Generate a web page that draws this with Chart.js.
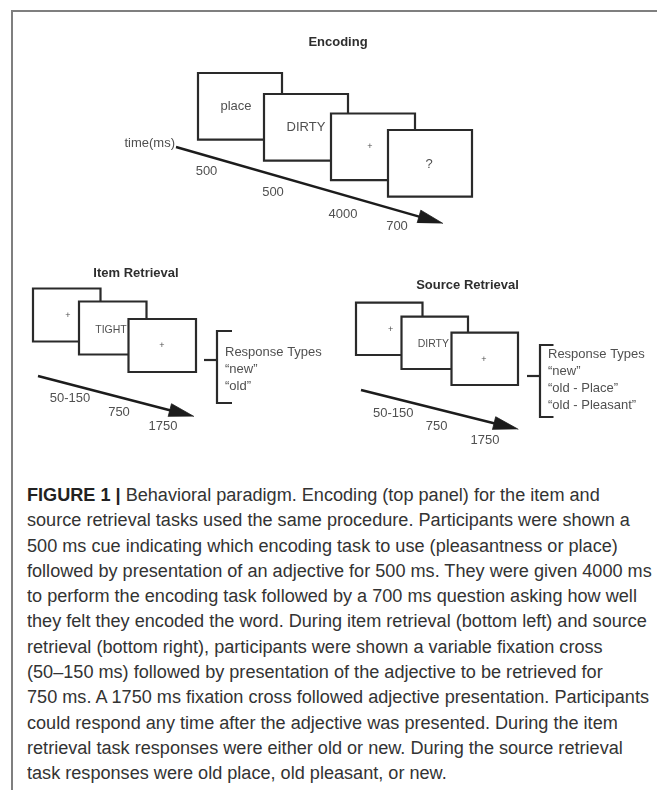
<!DOCTYPE html>
<html>
<head>
<meta charset="utf-8">
<script src="https://cdn.jsdelivr.net/npm/chart.js@4.4.1/dist/chart.umd.min.js"></script>
<style>
  html, body { margin: 0; padding: 0; background: #fff; }
  body { width: 657px; height: 790px; position: relative; overflow: hidden; }
  #frame { position: absolute; left: 11px; top: 10px; width: 700px; height: 820px;
           border-top: 2px solid #7f7f7f; border-left: 2px solid #7f7f7f; }
  #wrap { position: absolute; left: 0; top: 0; width: 657px; height: 470px; }
  #caption { position: absolute; left: 27px; top: 483px; font-family: "Liberation Sans", Arial, sans-serif;
             font-size: 18px; line-height: 25.3px; color: #333; white-space: nowrap; transform-origin: 0 0; }
  #caption .ln { display: block; }
  #caption .ln span { display: inline-block; }
  #caption b { color: #222; }
</style>
</head>
<body>
<div id="frame"></div>
<div id="wrap"><canvas id="c" width="657" height="470" style="width:657px;height:470px"></canvas></div>
<div id="caption"></div>
<script>
// ---------- content ----------
const panelTitles = ["Encoding", "Item Retrieval", "Source Retrieval"];
const timeAxisLabel = "time(ms)";
const encodingStimuli = ["place", "DIRTY", "+", "?"];
const encodingDurations = ["500", "500", "4000", "700"];
const itemStimuli = ["+", "TIGHT", "+"];
const itemDurations = ["50-150", "750", "1750"];
const itemResponses = ["Response Types", "\u201Cnew\u201D", "\u201Cold\u201D"];
const sourceStimuli = ["+", "DIRTY", "+"];
const sourceDurations = ["50-150", "750", "1750"];
const sourceResponses = ["Response Types", "\u201Cnew\u201D", "\u201Cold - Place\u201D", "\u201Cold - Pleasant\u201D"];
const captionLead = "FIGURE 1 |";
const captionLines = [
  " Behavioral paradigm. Encoding (top panel) for the item and",
  "source retrieval tasks used the same procedure. Participants were shown a",
  "500 ms cue indicating which encoding task to use (pleasantness or place)",
  "followed by presentation of an adjective for 500 ms. They were given 4000 ms",
  "to perform the encoding task followed by a 700 ms question asking how well",
  "they felt they encoded the word. During item retrieval (bottom left) and source",
  "retrieval (bottom right), participants were shown a variable fixation cross",
  "(50\u2013150 ms) followed by presentation of the adjective to be retrieved for",
  "750 ms. A 1750 ms fixation cross followed adjective presentation. Participants",
  "could respond any time after the adjective was presented. During the item",
  "retrieval task responses were either old or new. During the source retrieval",
  "task responses were old place, old pleasant, or new."
];

// ---------- layout (diagram coordinates, y grows downward) ----------
const layout = {
  encoding: {
    title: [338, 42], boxSize: [84, 66.6],
    boxes: [[198, 73], [264, 94], [331, 113.5], [388, 130]],
    stim: [[236, 106], [306, 127], [370, 146.5], [429, 164]], stimFont: [13, 13, 9, 13],
    arrow: [[176, 147], [443, 223.5]],
    dur: [[206.5, 171], [273, 192], [343, 214], [397, 226]],
    timeLabel: [175, 143]
  },
  item: {
    title: [136, 273], boxSize: [67.5, 53],
    boxes: [[33, 288.5], [79, 301.5], [128.5, 319]],
    stim: [[68, 316], [111, 330], [162, 346]], stimFont: [9, 10.5, 9],
    arrow: [[38, 376], [194, 416.5]],
    dur: [[70, 398], [119, 412], [163, 426]],
    bracket: { x: 217, top: 331, bottom: 403, tick: 232, stub: 204, stubY: 360 },
    resp: { x: 225, y: 352.3, step: 17.2 }
  },
  source: {
    title: [467.5, 285], boxSize: [66.5, 52.3],
    boxes: [[356, 302.7], [401.5, 316.7], [451.5, 332.7]],
    stim: [[390.7, 329.3], [433.3, 344], [484, 359.3]], stimFont: [9, 10.5, 9],
    arrow: [[361, 390], [518.3, 429.3]],
    dur: [[393.3, 413.3], [436.7, 426], [485, 440]],
    bracket: { x: 540, top: 345, bottom: 417, tick: 553.5, stub: 527, stubY: 376 },
    resp: { x: 548, y: 354, step: 17.1 }
  }
};

const LINE = '#2a2a2a';
const ARROW = '#1c1c1c';
const LABEL = '#505050';
const TITLE = '#2e2e2e';
const FONT = '"Liberation Sans", Arial, Helvetica, sans-serif';

// ---------- dataset builders ----------
function rectDataset(x0, y0, w, h) {
  const x1 = x0 + w, y1 = y0 + h;
  return {
    data: [{x: x0, y: y0}, {x: x1, y: y0}, {x: x1, y: y1}, {x: x0, y: y1}, {x: x0, y: y0}, {x: x1, y: y0}],
    showLine: true, fill: 'shape', backgroundColor: '#ffffff', borderColor: LINE, borderWidth: 2.2,
    pointRadius: 0, borderJoinStyle: 'miter', tension: 0
  };
}
function pathDataset(points, width, color) {
  return {
    data: points.map(p => ({x: p[0], y: p[1]})),
    showLine: true, fill: false, borderColor: color, borderWidth: width,
    pointRadius: 0, borderJoinStyle: 'miter', borderCapStyle: 'butt', tension: 0
  };
}
function arrowDatasets(start, tip) {
  const dx = tip[0] - start[0], dy = tip[1] - start[1];
  const len = Math.hypot(dx, dy);
  const ux = dx / len, uy = dy / len;
  const L = 25, hw = 6.7;
  const bx = tip[0] - L * ux, by = tip[1] - L * uy;
  const nx = -uy, ny = ux;
  const c1 = [bx + hw * nx, by + hw * ny], c2 = [bx - hw * nx, by - hw * ny];
  const corners = [c1, c2].sort((a, b) => a[0] - b[0]);
  const shaft = pathDataset([start, [bx + 2 * ux, by + 2 * uy]], 2.4, ARROW);
  const head = {
    data: [corners[0], corners[1], tip].map(p => ({x: p[0], y: p[1]})),
    showLine: true, fill: 'shape', backgroundColor: ARROW, borderColor: ARROW, borderWidth: 0.8,
    pointRadius: 0, borderJoinStyle: 'miter', tension: 0
  };
  return [shaft, head];
}
function bracketDatasets(b) {
  return [
    pathDataset([[b.tick, b.top], [b.x, b.top], [b.x, b.bottom], [b.tick, b.bottom]], 2.2, LINE),
    pathDataset([[b.stub, b.stubY], [b.x, b.stubY]], 2.2, LINE)
  ];
}

const drawOrder = [];
[['encoding', encodingStimuli], ['item', itemStimuli], ['source', sourceStimuli]].forEach(([key, stims]) => {
  const P = layout[key];
  stims.forEach((s, i) => drawOrder.push(rectDataset(P.boxes[i][0], P.boxes[i][1], P.boxSize[0], P.boxSize[1])));
  drawOrder.push(...arrowDatasets(P.arrow[0], P.arrow[1]));
  if (P.bracket) drawOrder.push(...bracketDatasets(P.bracket));
});
// Chart.js paints dataset 0 last (on top), so reverse to keep painter's order
const datasets = drawOrder.slice().reverse();

// ---------- text items ----------
const texts = [];
function addText(t, pos, size, color, bold, align) {
  texts.push({t, x: pos[0], y: pos[1], size, color, bold: !!bold, align: align || 'center'});
}
addText(panelTitles[0], layout.encoding.title, 13, TITLE, true);
addText(panelTitles[1], layout.item.title, 13, TITLE, true);
addText(panelTitles[2], layout.source.title, 13, TITLE, true);
addText(timeAxisLabel, layout.encoding.timeLabel, 13, LABEL, false, 'right');
[['encoding', encodingStimuli, encodingDurations], ['item', itemStimuli, itemDurations], ['source', sourceStimuli, sourceDurations]]
  .forEach(([key, stims, durs]) => {
    const P = layout[key];
    stims.forEach((s, i) => addText(s, P.stim[i], P.stimFont[i], LABEL, false));
    durs.forEach((d, i) => addText(d, P.dur[i], 13, LABEL, false));
  });
itemResponses.forEach((r, i) => addText(r, [layout.item.resp.x, layout.item.resp.y + i * layout.item.resp.step], 13, LABEL, false, 'left'));
sourceResponses.forEach((r, i) => addText(r, [layout.source.resp.x, layout.source.resp.y + i * layout.source.resp.step], 13, LABEL, false, 'left'));

const textPlugin = {
  id: 'diagramText',
  afterDatasetsDraw(chart) {
    const ctx = chart.ctx, xs = chart.scales.x, ys = chart.scales.y;
    ctx.save();
    ctx.textBaseline = 'middle';
    texts.forEach(it => {
      ctx.font = (it.bold ? 'bold ' : '') + it.size + 'px ' + FONT;
      ctx.fillStyle = it.color;
      ctx.textAlign = it.align;
      ctx.fillText(it.t, xs.getPixelForValue(it.x), ys.getPixelForValue(it.y));
    });
    ctx.restore();
  }
};

new Chart(document.getElementById('c'), {
  type: 'scatter',
  data: { datasets },
  options: {
    responsive: false, animation: false, devicePixelRatio: 1, events: [],
    layout: { padding: 0 },
    scales: {
      x: { type: 'linear', min: 0, max: 657, display: false },
      y: { type: 'linear', min: 0, max: 470, reverse: true, display: false }
    },
    plugins: { legend: { display: false }, tooltip: { enabled: false }, title: { display: false } }
  },
  plugins: [textPlugin]
});

// ---------- caption ----------
const cap = document.getElementById('caption');
captionLines.forEach((line, i) => {
  const d = document.createElement('div');
  d.className = 'ln';
  const s = document.createElement('span');
  if (i === 0) {
    const b = document.createElement('b');
    b.textContent = captionLead;
    s.appendChild(b);
    s.appendChild(document.createTextNode(line));
  } else {
    s.textContent = line;
  }
  d.appendChild(s);
  cap.appendChild(d);
});
const ref = cap.children[8].firstChild.getBoundingClientRect().width;
const k = 622 / ref;
cap.style.transform = 'scaleX(' + k.toFixed(4) + ')';
</script>
</body>
</html>
